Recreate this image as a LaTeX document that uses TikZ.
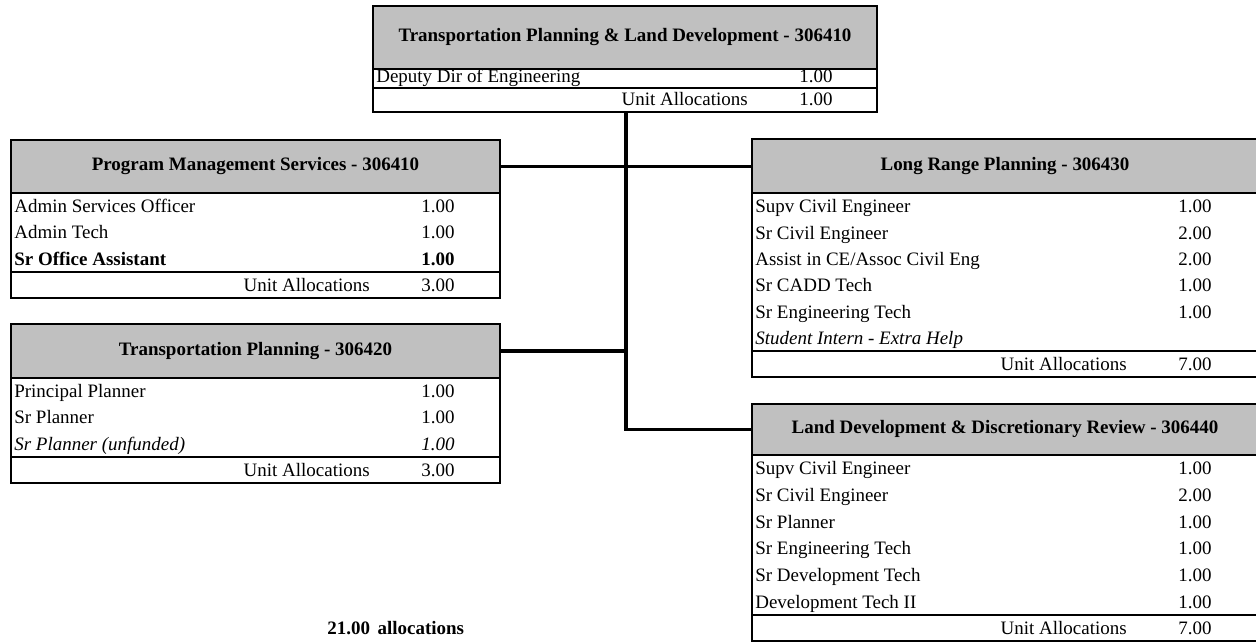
\documentclass[tikz,border=0pt]{standalone}
\usepackage{fontspec}
\setmainfont{Liberation Serif}
\newcommand{\pxu}{0.02cm}

\begin{document}
\begin{tikzpicture}[x=0.02cm, y=-0.02cm,
    font=\fontsize{10.8}{13}\selectfont,
    head/.style={draw=black, line width=1.4pt, fill=headgray, anchor=north west,
        inner sep=0pt, outer sep=0pt, font=\fontsize{10.8}{13}\selectfont\bfseries,
        text height=7.4pt, text depth=2.3pt},
    frame/.style={draw=black, line width=1.4pt},
    sep/.style={draw=black, line width=1.2pt},
    job/.style={anchor=base west, inner sep=0pt},
    num/.style={anchor=base east, inner sep=0pt},
    link/.style={draw=black, line width=1.9pt}]

    % 表头灰色
    \definecolor{headgray}{RGB}{192, 192, 192}

    % 页面范围
    \clip (0,0) rectangle (1256,642);

    % 顶部：交通规划与土地开发
    \node[head, minimum width=504*\pxu, minimum height=63*\pxu] (tpld) at (373,6) {Transportation Planning \& Land Development - 306410};
    \draw[frame] (373,69) rectangle (877,112);
    \draw[sep] (373,88) -- (877,88);
    \node[job] (tpld-j1) at (376,82.5) {Deputy Dir of Engineering};
    \node[num] (tpld-v1) at (833,82.5) {1.00};
    \node[num] (tpld-u) at (748,106) {Unit Allocations};
    \node[num] (tpld-t) at (833,106) {1.00};
    \coordinate (tpldbot) at (626,112);

    % 项目管理服务
    \node[head, minimum width=489*\pxu, minimum height=53*\pxu] (pms) at (11,140) {Program Management Services - 306410};
    \draw[frame] (11,193) rectangle (500,298);
    \draw[sep] (11,272) -- (500,272);
    \foreach \t/\v [count=\i] in {Admin Services Officer/1.00, Admin Tech/1.00} {
        \node[job] (pms-j\i) at (14,{193+26.3*\i-6.65}) {\t};
        \node[num] (pms-v\i) at (455,{193+26.3*\i-6.65}) {\v};
    }
    \node[job, font=\fontsize{10.8}{13}\selectfont\bfseries] (pms-j3) at (14,265.3) {Sr Office Assistant};
    \node[num, font=\fontsize{10.8}{13}\selectfont\bfseries] (pms-v3) at (455,265.3) {1.00};
    \node[num] (pms-u) at (370,291.5) {Unit Allocations};
    \node[num] (pms-t) at (455,291.5) {3.00};

    % 交通规划
    \node[head, minimum width=489*\pxu, minimum height=54*\pxu] (tp) at (11,324) {Transportation Planning - 306420};
    \draw[frame] (11,378) rectangle (500,483);
    \draw[sep] (11,457) -- (500,457);
    \foreach \t/\v [count=\i] in {Principal Planner/1.00, Sr Planner/1.00} {
        \node[job] (tp-j\i) at (14,{378+26.3*\i-6.65}) {\t};
        \node[num] (tp-v\i) at (455,{378+26.3*\i-6.65}) {\v};
    }
    \node[job, font=\fontsize{10.8}{13}\selectfont\itshape] (tp-j3) at (14,450.3) {Sr Planner (unfunded)};
    \node[num, font=\fontsize{10.8}{13}\selectfont\itshape] (tp-v3) at (455,450.3) {1.00};
    \node[num] (tp-u) at (370,476.5) {Unit Allocations};
    \node[num] (tp-t) at (455,476.5) {3.00};

    % 远期规划
    \node[head, minimum width=506*\pxu, minimum height=54*\pxu] (lrp) at (752,139) {Long Range Planning - 306430};
    \draw[frame] (752,193) rectangle (1258,377);
    \draw[sep] (752,351) -- (1258,351);
    \foreach \t/\v [count=\i] in {Supv Civil Engineer/1.00, Sr Civil Engineer/2.00,
        {Assist in CE/Assoc Civil Eng}/2.00, Sr CADD Tech/1.00, Sr Engineering Tech/1.00} {
        \node[job] (lrp-j\i) at (755,{193+26.33*\i-6.65}) {\t};
        \node[num] (lrp-v\i) at (1212,{193+26.33*\i-6.65}) {\v};
    }
    \node[job, font=\fontsize{10.8}{13}\selectfont\itshape] (lrp-j6) at (755,344.3) {Student Intern - Extra Help};
    \node[num] (lrp-u) at (1127,370.5) {Unit Allocations};
    \node[num] (lrp-t) at (1212,370.5) {7.00};

    % 土地开发与审查
    \node[head, minimum width=506*\pxu, minimum height=51*\pxu] (ldr) at (752,404) {Land Development \& Discretionary Review - 306440};
    \draw[frame] (752,455) rectangle (1258,641);
    \draw[sep] (752,615) -- (1258,615);
    \foreach \t/\v [count=\i] in {Supv Civil Engineer/1.00, Sr Civil Engineer/2.00, Sr Planner/1.00,
        Sr Engineering Tech/1.00, Sr Development Tech/1.00, Development Tech II/1.00} {
        \node[job] (ldr-j\i) at (755,{455+26.67*\i-6.83}) {\t};
        \node[num] (ldr-v\i) at (1212,{455+26.67*\i-6.83}) {\v};
    }
    \node[num] (ldr-u) at (1127,634.5) {Unit Allocations};
    \node[num] (ldr-t) at (1212,634.5) {7.00};

    % 连接线
    \draw[link] (tpldbot) |- (ldr.west);
    \draw[link] (pms.east) -- (pms.east -| lrp.west);
    \draw[link] (tp.east) -- (tp.east -| tpldbot);

    % 合计
    \node[job, font=\fontsize{10.8}{13}\selectfont\bfseries] (total) at (327,634) {21.00\hspace{0.4em}allocations};

\end{tikzpicture}
\end{document}
